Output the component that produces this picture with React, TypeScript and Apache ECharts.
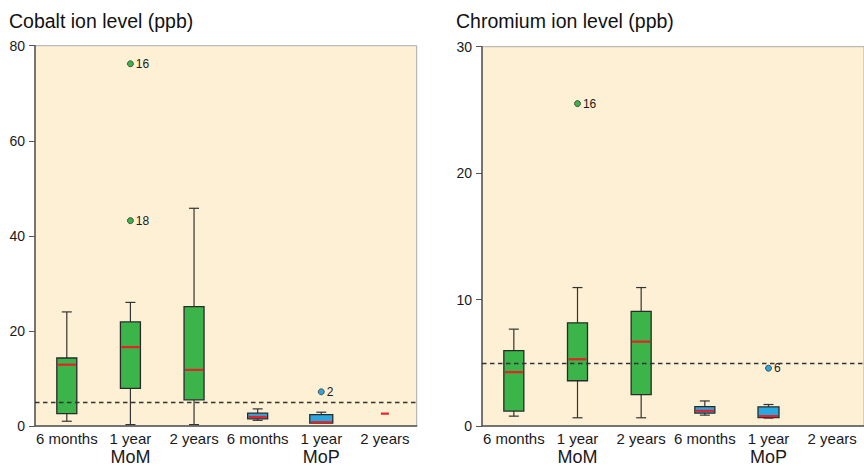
import React, { useEffect, useRef } from "react";
import * as echarts from "echarts";

// ---- data ----
const groups = ["MoM", "MoP"];
const periods = ["6 months", "1 year", "2 years"];
const categories = groups.flatMap((g) => periods.map((p) => `${g}|${p}`));

// [min, q1, median, q3, max] per category (null = no data)
const cobaltBoxes: (number[] | null)[] = [
  [1.0, 2.6, 12.9, 14.3, 24.0],
  [0.3, 7.9, 16.6, 21.9, 26.0],
  [0.3, 5.5, 11.8, 25.1, 45.8],
  [1.2, 1.5, 1.9, 2.7, 3.6],
  [0.6, 0.6, 0.8, 2.4, 2.9],
  [2.6, 2.6, 2.6, 2.6, 2.6],
];
// [categoryIndex, value, case label]
const cobaltOutliers: [number, number, string][] = [
  [1, 76.2, "16"],
  [1, 43.2, "18"],
  [4, 7.2, "2"],
];

const chromiumBoxes: (number[] | null)[] = [
  [0.78, 1.18, 4.26, 5.96, 7.66],
  [0.65, 3.58, 5.28, 8.16, 10.95],
  [0.65, 2.48, 6.67, 9.07, 10.95],
  [0.86, 1.02, 1.2, 1.54, 1.98],
  [0.63, 0.67, 0.78, 1.51, 1.7],
  null,
];
const chromiumOutliers: [number, number, string][] = [
  [1, 25.5, "16"],
  [4, 4.57, "6"],
];

const referenceLevel = 5;
const cobaltTicks = [0, 20, 40, 60, 80];
const chromiumTicks = [0, 10, 20, 30];

// ---- style ----
const GREEN = "#3BB44A";
const BLUE = "#29A8E0";
const RED = "#E8202A";
const BG = "#FEF0D5";
const FONT = "'Liberation Sans', Arial, Helvetica, sans-serif";

function panel(
  gridIndex: number,
  boxes: (number[] | null)[],
  outliers: [number, number, string][],
  ticks: number[],
  boxWidths: number[]
) {
  const boxData = boxes
    .map((b, i) => (b ? [i, ...b] : null))
    .filter((d) => d !== null);
  const colorFor = (i: number) => (i < 3 ? GREEN : BLUE);
  const series: any[] = [
    {
      type: "custom",
      xAxisIndex: gridIndex,
      yAxisIndex: gridIndex,
      data: boxData,
      encode: { x: 0, y: [1, 2, 3, 4, 5] },
      renderItem: (params: any, api: any) => {
        const idx = api.value(0);
        const [mn, q1, md, q3, mx] = [1, 2, 3, 4, 5].map((k) => api.value(k));
        const pMin = api.coord([idx, mn]);
        const pQ1 = api.coord([idx, q1]);
        const pMd = api.coord([idx, md]);
        const pQ3 = api.coord([idx, q3]);
        const pMax = api.coord([idx, mx]);
        const cx = pMin[0];
        const w = boxWidths[idx];
        const cap = 10;
        const stroke = { stroke: "#333", lineWidth: 1.2 };
        const children: any[] = [];
        if (mx > q3) {
          children.push({ type: "line", shape: { x1: cx, y1: pQ3[1], x2: cx, y2: pMax[1] }, style: stroke });
          children.push({ type: "line", shape: { x1: cx - cap / 2, y1: pMax[1], x2: cx + cap / 2, y2: pMax[1] }, style: stroke });
        }
        if (mn < q1) {
          children.push({ type: "line", shape: { x1: cx, y1: pQ1[1], x2: cx, y2: pMin[1] }, style: stroke });
          children.push({ type: "line", shape: { x1: cx - cap / 2, y1: pMin[1], x2: cx + cap / 2, y2: pMin[1] }, style: stroke });
        }
        if (q3 > q1) {
          children.push({
            type: "rect",
            shape: { x: cx - w / 2, y: pQ3[1], width: w, height: pQ1[1] - pQ3[1] },
            style: { fill: colorFor(idx), stroke: "#2a2a2a", lineWidth: 1.3 },
          });
        }
        children.push({
          type: "line",
          shape: { x1: cx - w / 2 + 1, y1: pMd[1], x2: cx + w / 2 - 1, y2: pMd[1] },
          style: { stroke: RED, lineWidth: 2.2 },
        });
        return { type: "group", children };
      },
      markLine: {
        silent: true,
        symbol: "none",
        label: { show: false },
        lineStyle: { type: [4.5, 3.5], color: "#333", width: 1.3 },
        data: [{ yAxis: referenceLevel }],
      },
      z: 3,
    },
    {
      type: "scatter",
      xAxisIndex: gridIndex,
      yAxisIndex: gridIndex,
      data: outliers.map(([i, v, l]) => ({
        value: [categories[i], v],
        name: l,
        itemStyle: { color: colorFor(i) },
      })),
      symbolSize: 6,
      itemStyle: { borderColor: "#333", borderWidth: 0.8, opacity: 1 },
      label: {
        show: true,
        position: "right",
        distance: 2,
        formatter: (p: any) => p.name,
        fontSize: 12,
        color: "#1a1a1a",
        fontFamily: FONT,
      },
      z: 4,
    },
  ];
  const xAxis = {
    type: "category",
    gridIndex,
    data: categories,
    boundaryGap: true,
    axisLine: { show: true, lineStyle: { color: "#555", width: 1.5 } },
    axisTick: { show: false },
    axisLabel: {
      interval: 0,
      margin: 4,
      formatter: (v: string) => {
        const [g, p] = v.split("|");
        return p === periods[1] ? `{a|${p}}\n{b|${g}}` : `{a|${p}}`;
      },
      rich: {
        a: { fontSize: 15, color: "#1a1a1a", fontFamily: FONT, lineHeight: 17 },
        b: { fontSize: 18, color: "#1a1a1a", fontFamily: FONT, lineHeight: 20 },
      },
      verticalAlign: "top",
    },
  };
  const yAxis = {
    type: "value",
    gridIndex,
    min: ticks[0],
    max: ticks[ticks.length - 1],
    interval: ticks[1] - ticks[0],
    splitLine: { show: false },
    axisLine: { show: true, lineStyle: { color: "#555", width: 1.5 } },
    axisTick: { show: true, length: 6, lineStyle: { color: "#555" } },
    axisLabel: { fontSize: 14, color: "#1a1a1a", fontFamily: FONT, margin: 10 },
  };
  return { series, xAxis, yAxis };
}

export default function App() {
  const ref = useRef<HTMLDivElement>(null);
  useEffect(() => {
    if (!ref.current) return;
    const chart = echarts.init(ref.current, undefined, { renderer: "svg" });
    const a = panel(0, cobaltBoxes, cobaltOutliers, cobaltTicks, [20, 20, 20, 20, 23, 10]);
    const b = panel(1, chromiumBoxes, chromiumOutliers, chromiumTicks, [20, 20, 20, 20, 21, 10]);
    chart.setOption({
      animation: false,
      backgroundColor: "#ffffff",
      title: [
        {
          text: "Cobalt ion level (ppb)",
          left: 9,
          top: 11,
          padding: 0,
          textStyle: { fontSize: 19.5, fontWeight: "normal", color: "#111", fontFamily: FONT },
        },
        {
          text: "Chromium ion level (ppb)",
          left: 456,
          top: 11,
          padding: 0,
          textStyle: { fontSize: 19.5, fontWeight: "normal", color: "#111", fontFamily: FONT },
        },
      ],
      grid: [
        { left: 35, top: 45.7, width: 381.7, height: 382.3, show: true, backgroundColor: BG, borderColor: "#aaa", borderWidth: 1 },
        { left: 482, top: 46.7, width: 393, height: 382.6, show: true, backgroundColor: BG, borderColor: "#aaa", borderWidth: 1 },
      ],
      xAxis: [a.xAxis, b.xAxis],
      yAxis: [a.yAxis, b.yAxis],
      series: [...a.series, ...b.series],
    });
    return () => chart.dispose();
  }, []);
  return (
    <div
      ref={ref}
      style={{ position: "fixed", left: 0, top: 0, width: 864, height: 466, overflow: "hidden" }}
    />
  );
}
